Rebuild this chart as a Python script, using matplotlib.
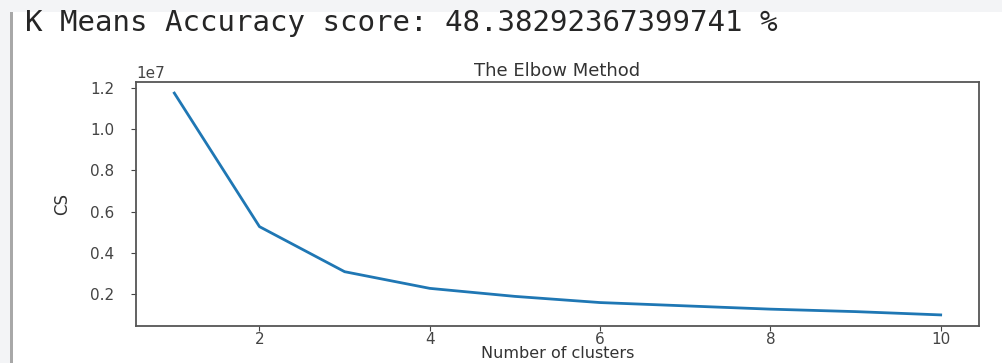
"""Elbow method chart as shown in a notebook cell output."""

import matplotlib
matplotlib.use("Agg")
import matplotlib.pyplot as plt
from matplotlib.patches import Rectangle

# Data
n_clusters = [1, 2, 3, 4, 5, 6, 7, 8, 9, 10]
wcss = [1.176e7, 0.527e7, 0.308e7, 0.227e7, 0.188e7, 0.158e7, 0.142e7, 0.126e7, 0.114e7, 0.098e7]
accuracy = 48.38292367399741

W, H = 1002, 363
fig = plt.figure(figsize=(W / 100, H / 100), dpi=100)
fig.patch.set_facecolor("white")

# notebook chrome: grey strip on top and left, cell border line
fig.patches.append(Rectangle((0, 1 - 12 / H), 1, 12 / H, transform=fig.transFigure,
                             facecolor="#f3f4f6", edgecolor="none", zorder=0))
fig.patches.append(Rectangle((0, 0), 10 / W, 1, transform=fig.transFigure,
                             facecolor="#f3f4f6", edgecolor="none", zorder=0))
fig.patches.append(Rectangle((10 / W, 0), 3 / W, 1 - 12 / H, transform=fig.transFigure,
                             facecolor="#a8a8a8", edgecolor="none", zorder=1))

fig.text(25 / W, 1 - 23 / H, f"K Means Accuracy score: {accuracy} %",
         family="DejaVu Sans Mono", fontsize=21, color="#262626",
         ha="left", va="center")

ax = fig.add_axes([136 / W, 1 - 326 / H, (979 - 136) / W, (326 - 82) / H])
ax.plot(n_clusters, wcss, color="#1f77b4", linewidth=2)

ax.set_title("The Elbow Method", fontsize=13, color="#333333", pad=4)
ax.set_xlabel("Number of clusters", fontsize=11.5, color="#333333", labelpad=-1)
ax.set_ylabel("CS", fontsize=12, color="#333333", labelpad=14)
ax.set_xticks([2, 4, 6, 8, 10])
ax.set_yticks([0.2e7, 0.4e7, 0.6e7, 0.8e7, 1.0e7, 1.2e7])
ax.tick_params(labelsize=11, colors="#444444")
ax.tick_params(axis="x", pad=1)
ax.tick_params(axis="y", pad=12)
ax.yaxis.get_offset_text().set_fontsize(11)
ax.yaxis.get_offset_text().set_color("#444444")
for s in ax.spines.values():
    s.set_color("#555555")
    s.set_linewidth(1.3)

fig.savefig("out.png", dpi=100)
